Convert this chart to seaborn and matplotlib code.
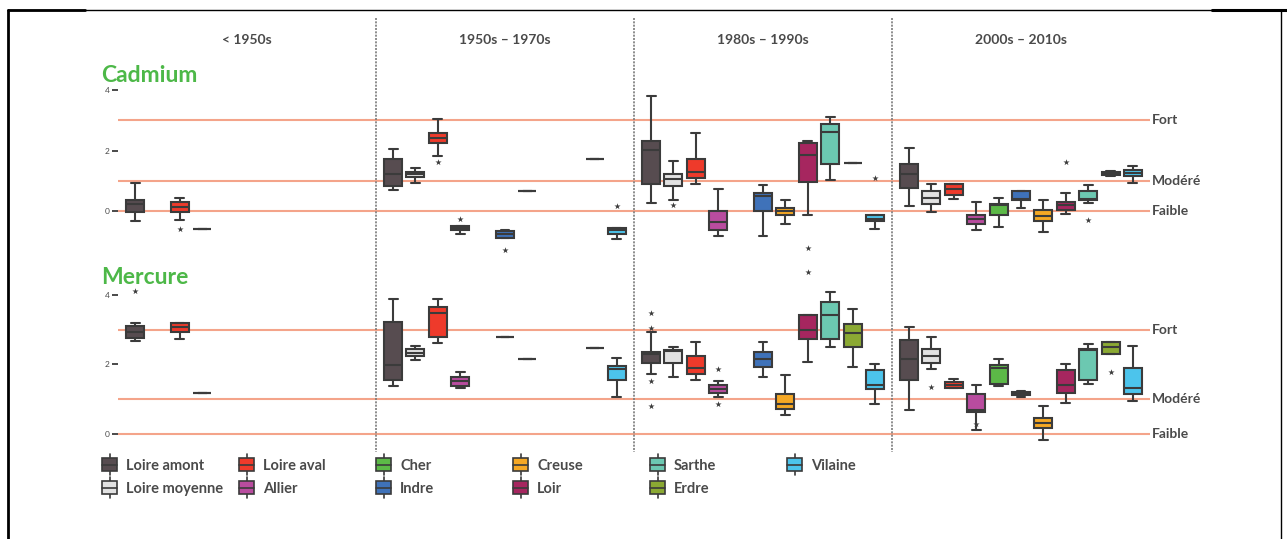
import matplotlib
matplotlib.use("Agg")
import matplotlib.pyplot as plt
import matplotlib.transforms as mtransforms
from matplotlib.lines import Line2D
from matplotlib.patches import Patch, Rectangle
from matplotlib.legend_handler import HandlerBase
import pandas as pd
import seaborn as sns

# categories
periods = ["< 1950s", "1950s – 1970s", "1980s – 1990s", "2000s – 2010s"]
rivers = ["Loire amont", "Loire moyenne", "Loire aval", "Allier", "Cher", "Indre",
          "Creuse", "Loir", "Sarthe", "Erdre", "Vilaine"]
colors = ["#574c50", "#e2e2e2", "#ee3a2b", "#b94c9f", "#5cb947", "#3f72b9",
          "#f6a824", "#a6265f", "#6cc8b1", "#8ba933", "#4cc4ec"]
thresholds = [3, 1, 0]
threshold_labels = ["Fort", "Modéré", "Faible"]

# Cadmium : [min, q1, median, q3, max] (one value = single observation)
cd_p1 = {"Loire amont": [-0.33, -0.02, 0.25, 0.39, 0.93],
         "Loire aval": [-0.30, -0.02, 0.14, 0.31, 0.44],
         "Allier": [-0.59]}
cd_p2 = {"Loire amont": [0.69, 0.84, 1.22, 1.73, 2.04],
         "Loire moyenne": [0.95, 1.13, 1.22, 1.30, 1.43],
         "Loire aval": [1.82, 2.25, 2.42, 2.58, 3.03],
         "Allier": [-0.76, -0.63, -0.55, -0.47, -0.47],
         "Indre": [-0.88, -0.88, -0.74, -0.65, -0.60],
         "Creuse": [0.67],
         "Erdre": [1.72],
         "Vilaine": [-0.90, -0.75, -0.63, -0.54, -0.54]}
cd_p3 = {"Loire amont": [0.27, 0.91, 2.01, 2.32, 3.80],
         "Loire moyenne": [0.36, 0.84, 1.08, 1.22, 1.66],
         "Loire aval": [0.89, 1.11, 1.30, 1.73, 2.58],
         "Allier": [-0.83, -0.60, -0.35, 0.0, 0.75],
         "Indre": [-0.83, 0.0, 0.51, 0.62, 0.88],
         "Creuse": [-0.43, -0.13, 0.0, 0.12, 0.36],
         "Loir": [-0.13, 0.97, 1.85, 2.25, 2.32],
         "Sarthe": [1.02, 1.57, 2.62, 2.87, 3.11],
         "Erdre": [1.59],
         "Vilaine": [-0.57, -0.32, -0.25, -0.13, -0.13]}
cd_p4 = {"Loire amont": [0.18, 0.78, 1.22, 1.57, 2.09],
         "Loire moyenne": [-0.02, 0.25, 0.45, 0.67, 0.91],
         "Loire aval": [0.40, 0.55, 0.73, 0.91, 0.91],
         "Allier": [-0.63, -0.43, -0.26, -0.11, 0.31],
         "Cher": [-0.52, -0.13, 0.22, 0.25, 0.44],
         "Indre": [0.11, 0.36, 0.42, 0.67, 0.67],
         "Creuse": [-0.68, -0.32, -0.15, 0.06, 0.36],
         "Loir": [-0.08, 0.06, 0.20, 0.31, 0.62],
         "Sarthe": [0.29, 0.36, 0.42, 0.67, 0.88],
         "Erdre": [1.16, 1.19, 1.25, 1.30, 1.32],
         "Vilaine": [0.95, 1.16, 1.26, 1.35, 1.50]}
cd_outliers = [(0, "Loire aval", -0.57), (1, "Loire aval", 1.63), (1, "Allier", -0.25),
               (1, "Indre", -1.26), (1, "Vilaine", 0.18), (2, "Loire moyenne", 0.22),
               (2, "Loir", -1.21), (2, "Loir", -2.01), (2, "Vilaine", 1.10),
               (3, "Loir", 1.63), (3, "Sarthe", -0.27)]

# Mercure
hg_p1 = {"Loire amont": [2.66, 2.75, 2.94, 3.11, 3.19],
         "Loire aval": [2.72, 2.94, 3.07, 3.19, 3.19],
         "Allier": [1.19]}
hg_p2 = {"Loire amont": [1.38, 1.55, 1.99, 3.23, 3.88],
         "Loire moyenne": [2.13, 2.24, 2.34, 2.44, 2.53],
         "Loire aval": [2.61, 2.78, 3.49, 3.65, 3.88],
         "Allier": [1.33, 1.39, 1.53, 1.63, 1.79],
         "Indre": [2.78],
         "Creuse": [2.15],
         "Erdre": [2.47],
         "Vilaine": [1.06, 1.55, 1.87, 1.96, 2.18]}
hg_p3 = {"Loire amont": [1.73, 2.03, 2.30, 2.37, 2.92],
         "Loire moyenne": [1.65, 2.03, 2.39, 2.42, 2.51],
         "Loire aval": [1.55, 1.72, 1.89, 2.25, 2.64],
         "Allier": [1.07, 1.19, 1.29, 1.41, 1.53],
         "Indre": [1.65, 1.92, 2.16, 2.37, 2.64],
         "Creuse": [0.55, 0.71, 0.85, 1.14, 1.68],
         "Loir": [2.06, 2.73, 2.99, 3.42, 3.42],
         "Sarthe": [2.51, 2.72, 3.42, 3.81, 4.08],
         "Erdre": [1.92, 2.51, 2.90, 3.17, 3.60],
         "Vilaine": [0.85, 1.29, 1.41, 1.84, 2.01]}
hg_p4 = {"Loire amont": [0.69, 1.55, 2.16, 2.69, 3.07],
         "Loire moyenne": [1.87, 2.03, 2.24, 2.44, 2.80],
         "Loire aval": [1.33, 1.33, 1.40, 1.48, 1.57],
         "Allier": [0.12, 0.64, 0.69, 1.14, 1.41],
         "Cher": [1.38, 1.44, 1.89, 1.99, 2.16],
         "Indre": [1.07, 1.12, 1.16, 1.20, 1.24],
         "Creuse": [-0.17, 0.16, 0.31, 0.45, 0.79],
         "Loir": [0.90, 1.19, 1.41, 1.84, 2.01],
         "Sarthe": [1.43, 1.55, 2.40, 2.44, 2.59],
         "Erdre": [2.29, 2.29, 2.51, 2.64, 2.64],
         "Vilaine": [0.95, 1.14, 1.31, 1.89, 2.54]}
hg_outliers = [(0, "Loire amont", 4.10), (2, "Loire amont", 3.49), (2, "Loire amont", 3.06),
               (2, "Loire amont", 1.51), (2, "Loire amont", 0.79), (2, "Allier", 1.87),
               (2, "Allier", 0.85), (3, "Loire moyenne", 1.34), (3, "Allier", 0.28),
               (3, "Erdre", 1.79)]

W, H = 1287, 539
SLOT = 0.0868  # spacing between rivers inside a period
EDGE = "#3b3b3b"
TXT = "#4a4a4a"
LINE = "#f4a48a"
GREEN = "#4db848"
palette = dict(zip(rivers, colors))


def position(p, river):
    return round(p + (rivers.index(river) - 5) * SLOT, 4)


def box_frame(period_dicts):
    rows = []
    for p, d in enumerate(period_dicts):
        for river, vals in d.items():
            for v in vals:
                rows.append((position(p, river), river, v))
    return pd.DataFrame(rows, columns=["pos", "river", "value"])


def outlier_frame(outliers):
    return pd.DataFrame([(position(p, r), r, v) for p, r, v in outliers],
                        columns=["pos", "river", "value"])


sns.set_theme(style="white")
plt.rcParams["font.family"] = ["Lato", "DejaVu Sans"]

fig = plt.figure(figsize=(W / 100, H / 100), dpi=100)
ax_cd = fig.add_axes([118 / W, 1 - 278 / H, 1032 / W, 197 / H])
ax_hg = fig.add_axes([118 / W, 1 - 446 / H, 1032 / W, 161.5 / H])


def draw_panel(ax, boxes, outs, ylim):
    for t, lab in zip(thresholds, threshold_labels):
        ax.axhline(t, color=LINE, lw=1.5, zorder=0.5)
        ax.text(1.002, t, lab, transform=ax.get_yaxis_transform(), ha="left", va="center",
                fontsize=10, fontweight="bold", color=TXT)
    sns.boxplot(data=boxes, x="pos", y="value", hue="river", hue_order=rivers, palette=palette,
                native_scale=True, dodge=False, orient="x", width=0.8, whis=(0, 100),
                showfliers=False, linecolor=EDGE, linewidth=1.5, saturation=1,
                legend=False, ax=ax)
    sns.scatterplot(data=outs, x="pos", y="value", marker="*", s=22, color=EDGE,
                    linewidth=0, legend=False, ax=ax)
    ax.set_xlim(-0.5, 3.5)
    ax.set_ylim(*ylim)
    ax.set_xlabel("")
    ax.set_ylabel("")
    ax.set_xticks([])
    ax.set_yticks([0, 2, 4])
    ax.tick_params(axis="y", left=True, length=4, width=1.3, color=EDGE, pad=2,
                   labelsize=6, labelcolor=TXT)
    for s in ax.spines.values():
        s.set_visible(False)


draw_panel(ax_cd, box_frame([cd_p1, cd_p2, cd_p3, cd_p4]), outlier_frame(cd_outliers), (-2.2, 4.3))
draw_panel(ax_hg, box_frame([hg_p1, hg_p2, hg_p3, hg_p4]), outlier_frame(hg_outliers), (-0.35, 4.3))

fig.text(101 / W, 1 - 75 / H, "Cadmium", fontsize=16.5, fontweight="bold", color=GREEN, va="center")
fig.text(101 / W, 1 - 277 / H, "Mercure", fontsize=16.5, fontweight="bold", color=GREEN, va="center")

# period headers and separators
blend = mtransforms.blended_transform_factory(ax_cd.transData, fig.transFigure)
for i, lab in enumerate(periods):
    ax_cd.text(i, 1 - 40 / H, lab, transform=blend, ha="center", va="center",
               fontsize=10, fontweight="bold", color=TXT)
for b in [0.5, 1.5, 2.5]:
    fig.add_artist(Line2D([b, b], [1 - 18 / H, 1 - 452 / H], transform=blend,
                          color="#7a7a7a", lw=1.2, ls=(0, (1.2, 0.8))))


# legend with small box glyphs
class BoxGlyph(HandlerBase):
    def create_artists(self, legend, orig_handle, xd, yd, width, height, fontsize, trans):
        cx = -xd + width / 2
        y0 = -yd
        whisk = Line2D([cx, cx], [y0 - 0.3 * height, y0 + 1.3 * height], color=EDGE, lw=1.2,
                       transform=trans)
        box = Rectangle((-xd, y0), width, height, facecolor=orig_handle.get_facecolor(),
                        edgecolor=EDGE, lw=1.2, transform=trans)
        med = Line2D([-xd, -xd + width], [y0 + height / 2] * 2, color=EDGE, lw=1.2,
                     transform=trans)
        return [whisk, box, med]


handles = [Patch(facecolor=c, label=r) for r, c in zip(rivers, colors)]
for c in range(6):
    fig.legend(handles=handles[2 * c:2 * c + 2], loc="upper left",
               bbox_to_anchor=((102 + c * 137) / W, 1 - 458 / H),
               handler_map={Patch: BoxGlyph()}, frameon=False, borderpad=0,
               borderaxespad=0, handlelength=1.05, handleheight=1.0, handletextpad=0.6,
               labelspacing=0.6, labelcolor=TXT,
               prop={"weight": "bold", "size": 10.5})

# outer frame
fig.add_artist(Line2D([8 / W, 8 / W], [0, 1 - 10 / H], color="black", lw=2))
fig.add_artist(Line2D([8 / W, 1], [1 - 10 / H] * 2, color="black", lw=1))
fig.add_artist(Line2D([8 / W, 85 / W], [1 - 10 / H] * 2, color="black", lw=2))
fig.add_artist(Line2D([1212 / W, 1], [1 - 10 / H] * 2, color="black", lw=2.2))
fig.add_artist(Line2D([1281 / W, 1281 / W], [0, 1 - 10 / H], color="black", lw=1))

fig.savefig("out.png", dpi=100)
